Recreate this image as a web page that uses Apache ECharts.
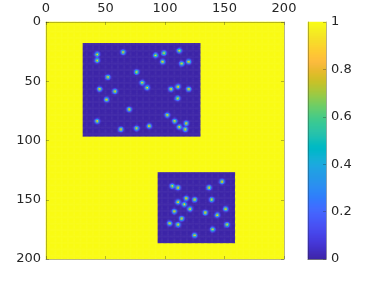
<!DOCTYPE html>
<html>
<head>
<meta charset="utf-8">
<script src="https://cdn.jsdelivr.net/npm/echarts@6/dist/echarts.min.js"></script>
<style>
  html, body { margin: 0; padding: 0; background: #ffffff; }
  #chart { width: 374px; height: 282px; }
</style>
</head>
<body>
<div id="chart"></div>
<script>
// ---- data (axis units, 0..200) ----
const gridSize = 200;
const xTicks = [0, 50, 100, 150, 200];
const yTicks = [0, 50, 100, 150, 200];
const cbTicks = [0, 0.2, 0.4, 0.6, 0.8, 1];
const backgroundValue = 1;
const boxValue = 0;
// dark boxes: [x0, x1, y0, y1]
const box1 = [31, 130, 18, 97];
const box2 = [94, 159, 127, 187];
// bright spots inside box 1
const spots1X = [43.2, 43.2, 65.0, 92.3, 99.3, 112.2, 98.2, 114.2, 120.1, 76.3, 52.2, 81.0, 85.2, 45.2, 58.1,
                 105.2, 111.1, 120.1, 51.1, 110.8, 70.1, 102.1, 43.2, 108.3, 118.0, 112.2, 117.2, 63.1, 76.3, 86.9];
const spots1Y = [27.6, 32.7, 25.7, 28.4, 26.5, 24.5, 33.8, 35.4, 33.8, 42.5, 46.8, 51.5, 55.7, 56.9, 58.8,
                 56.9, 54.9, 56.9, 65.8, 64.7, 74.0, 78.8, 83.9, 83.9, 85.8, 88.9, 90.9, 90.9, 90.0, 88.1];
// bright spots inside box 2
const spots2X = [106.3, 111.1, 137.2, 148.1, 118.0, 111.1, 116.4, 125.1, 139.4, 121.2,
                 108.0, 134.0, 151.2, 144.1, 114.2, 104.1, 111.1, 152.3, 140.2, 125.1];
const spots2Y = [138.7, 140.1, 140.1, 135.0, 149.1, 152.2, 154.2, 150.2, 150.2, 158.1,
                 160.1, 161.2, 158.1, 163.2, 166.2, 170.2, 171.3, 171.3, 175.3, 180.3];
const spotPeak = 0.9;
const spotSigma = 1.1;

// parula colormap (style)
const parula = ['#3e26a8','#4029b4','#422ec0','#4332cb','#4537d5','#463cde','#4741e5','#4747eb','#484df0','#4852f4','#4758f8','#465efb','#4563fd','#426afe','#3e6fff','#3875fe','#327bfc','#2f81f9','#2d87f7','#2d8cf3','#2b91ee','#2796eb','#2599e7','#239ee5','#20a3e3','#1ca9df','#18add9','#12b1d4','#08b4cf','#01b7c8','#02bac3','#0bbdbc','#19bfb6','#24c1ae','#2cc3a7','#31c69f','#37c897','#3fca8e','#4acb84','#57cc7a','#64cd6f','#71cd64','#80cc59','#8fcb4e','#9dc943','#abc739','#b9c431','#c5c22a','#d1bf27','#dcbd29','#e6bb2d','#efba35','#f8ba3d','#febe3c','#fec338','#fec933','#fccf30','#fad62d','#f7dc2a','#f5e227','#f5e924','#f5ef20','#f7f51b','#f9fb15'];

// ---- build the image table from the arrays above ----
const boxes = [
  { rect: box1, xs: spots1X, ys: spots1Y },
  { rect: box2, xs: spots2X, ys: spots2Y }
];
const cellData = [];
const cats = [];
for (let i = 0; i < gridSize; i++) cats.push(i);
for (let j = 0; j < gridSize; j++) {
  for (let i = 0; i < gridSize; i++) {
    const cx = i + 0.5, cy = j + 0.5;
    let v = backgroundValue;
    for (const b of boxes) {
      const r = b.rect;
      if (cx > r[0] && cx < r[1] && cy > r[2] && cy < r[3]) {
        v = boxValue;
        for (let k = 0; k < b.xs.length; k++) {
          const dx = cx - b.xs[k], dy = cy - b.ys[k];
          v += spotPeak * Math.exp(-(dx * dx + dy * dy) / (2 * spotSigma * spotSigma));
        }
        if (v > 1) v = 1;
      }
    }
    cellData.push([i, j, v]);
  }
}
const cbSteps = 237;
const cbCats = [];
const cbData = [];
for (let k = 0; k < cbSteps; k++) {
  cbCats.push(k);
  cbData.push([0, k, k / (cbSteps - 1)]);
}

const lineCol = 'rgba(38,38,38,0.32)';
const txt = { color: '#262626', fontSize: 13, fontFamily: 'DejaVu Sans' };

function valueAxis(grid, pos, min, max, step, showLabel, inverse, margin) {
  return {
    type: 'value', gridIndex: grid, position: pos, min: min, max: max, interval: step,
    inverse: !!inverse, z: 10,
    axisLine: { show: true, onZero: false, lineStyle: { color: lineCol, width: 1 } },
    axisTick: { show: true, inside: true, length: 3, lineStyle: { color: lineCol } },
    axisLabel: Object.assign({ show: showLabel, margin: margin }, txt),
    splitLine: { show: false }
  };
}

const chart = echarts.init(document.getElementById('chart'), null, { renderer: 'canvas' });
chart.setOption({
  animation: false,
  backgroundColor: '#ffffff',
  grid: [
    { left: 46, top: 22, width: 238, height: 237 },
    { left: 46, top: 22, width: 238, height: 237 },
    { left: 308, top: 22, width: 18, height: 237 }
  ],
  xAxis: [
    { type: 'category', gridIndex: 0, data: cats, show: false },
    valueAxis(1, 'top', xTicks[0], xTicks[xTicks.length - 1], xTicks[1] - xTicks[0], true, false, 7),
    valueAxis(1, 'bottom', xTicks[0], xTicks[xTicks.length - 1], xTicks[1] - xTicks[0], false, false, 8),
    { type: 'category', gridIndex: 2, data: ['c'], show: false },
    { type: 'category', gridIndex: 2, data: ['c'], position: 'top', z: 10,
      axisLine: { show: true, lineStyle: { color: lineCol } }, axisTick: { show: false }, axisLabel: { show: false } },
    { type: 'category', gridIndex: 2, data: ['c'], position: 'bottom', z: 10,
      axisLine: { show: true, lineStyle: { color: lineCol } }, axisTick: { show: false }, axisLabel: { show: false } }
  ],
  yAxis: [
    { type: 'category', gridIndex: 0, data: cats, inverse: true, show: false },
    valueAxis(1, 'left', yTicks[0], yTicks[yTicks.length - 1], yTicks[1] - yTicks[0], true, true, 5),
    valueAxis(1, 'right', yTicks[0], yTicks[yTicks.length - 1], yTicks[1] - yTicks[0], false, true, 5),
    { type: 'category', gridIndex: 2, data: cbCats, show: false },
    valueAxis(2, 'right', cbTicks[0], cbTicks[cbTicks.length - 1], 0.2, true, false, 5),
    Object.assign(valueAxis(2, 'left', cbTicks[0], cbTicks[cbTicks.length - 1], 0.2, false, false, 5),
      { axisTick: { show: false } })
  ],
  visualMap: {
    type: 'continuous', show: false, min: 0, max: 1, seriesIndex: [0, 1],
    inRange: { color: parula }
  },
  series: [
    {
      type: 'heatmap', xAxisIndex: 0, yAxisIndex: 0, data: cellData,
      progressive: 0, silent: true, emphasis: { disabled: true },
      itemStyle: { borderWidth: 0 }
    },
    {
      type: 'heatmap', xAxisIndex: 3, yAxisIndex: 3, data: cbData,
      progressive: 0, silent: true, emphasis: { disabled: true },
      itemStyle: { borderWidth: 0 }
    }
  ]
});
</script>
</body>
</html>
